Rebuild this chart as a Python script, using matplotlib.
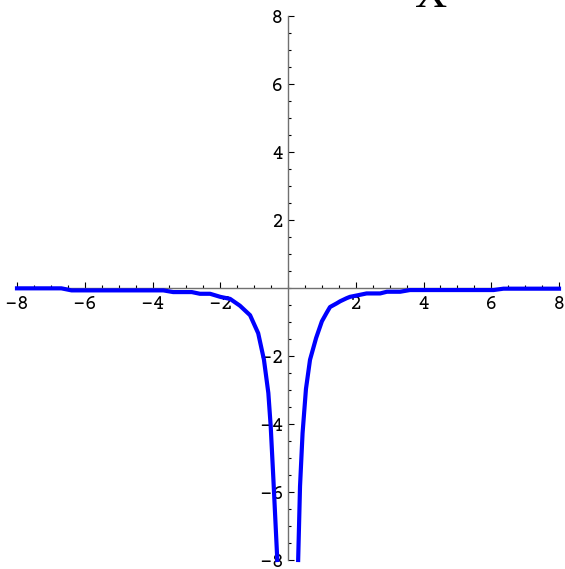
import matplotlib
matplotlib.use("Agg")
import matplotlib.pyplot as plt
from matplotlib.ticker import FixedLocator, MultipleLocator

# curve, left and right of the pole at x = 0
left_x = [-8.0, -6.69, -6.39, -3.68, -3.39, -2.84, -2.60, -2.30, -2.0, -1.71,
          -1.42, -1.12, -0.88, -0.71, -0.58, -0.51, -0.43, -0.316]
left_y = [-0.01, -0.01, -0.07, -0.07, -0.12, -0.12, -0.17, -0.17, -0.26, -0.32,
          -0.52, -0.80, -1.33, -2.11, -3.09, -4.08, -5.65, -8.0]

right_x = [0.30, 0.355, 0.43, 0.53, 0.65, 0.83, 1.0, 1.14, 1.24, 1.44, 1.54,
           1.73, 1.83, 1.93, 2.03, 2.32, 2.72, 2.92, 3.31, 3.60, 6.07, 6.36, 8.0]
right_y = [-8.0, -5.83, -4.27, -2.97, -2.11, -1.47, -0.98, -0.73, -0.56, -0.45, -0.39,
           -0.30, -0.26, -0.24, -0.22, -0.16, -0.16, -0.11, -0.11, -0.06, -0.06, -0.02, -0.02]

ticks = [-8, -6, -4, -2, 2, 4, 6, 8]
# plain hyphen, the mono faces here have no U+2212
tick_labels = ["-8", "-6", "-4", "-2", "2", "4", "6", "8"]
title = "X"

BLUE = (0, 0, 1)
AXISGRAY = "#707070"
# courier-ish first, whatever is installed gets used
MONO = ["Courier Prime", "Nimbus Mono PS", "FreeMono", "Liberation Mono"]

fig = plt.figure(figsize=(5.65, 5.69), dpi=100)
ax = fig.add_axes([17/565, 9/569, 542/565, 544/569])
ax.set_xlim(-8, 8)
ax.set_ylim(-8, 8)

ax.plot(left_x, left_y, color=BLUE, lw=3, clip_on=False, zorder=5)
ax.plot(right_x, right_y, color=BLUE, lw=3, clip_on=False, zorder=5)

# axes through the origin, mathematica style
for s in ["top", "right"]:
    ax.spines[s].set_visible(False)
for s in ["left", "bottom"]:
    ax.spines[s].set_position("zero")
    ax.spines[s].set_color(AXISGRAY)
    ax.spines[s].set_linewidth(1)

for axis in [ax.xaxis, ax.yaxis]:
    axis.set_major_locator(FixedLocator(ticks))
    axis.set_minor_locator(MultipleLocator(0.5))

ax.tick_params(which="major", direction="in", length=4, width=0.8, color="black")
ax.tick_params(which="minor", direction="in", length=2.5, width=0.8, color="black")
ax.tick_params(axis="x", pad=5)
ax.tick_params(axis="y", pad=3)
ax.set_xticklabels(tick_labels, family=MONO, fontsize=15)
ax.set_yticklabels(tick_labels, family=MONO, fontsize=15)

# big label at the top, mostly cut off by the edge
fig.text(431/565, 1 - 7/569, title, ha="center", va="baseline",
         fontsize=32, family="Liberation Serif")

fig.savefig("out.png", dpi=100)
